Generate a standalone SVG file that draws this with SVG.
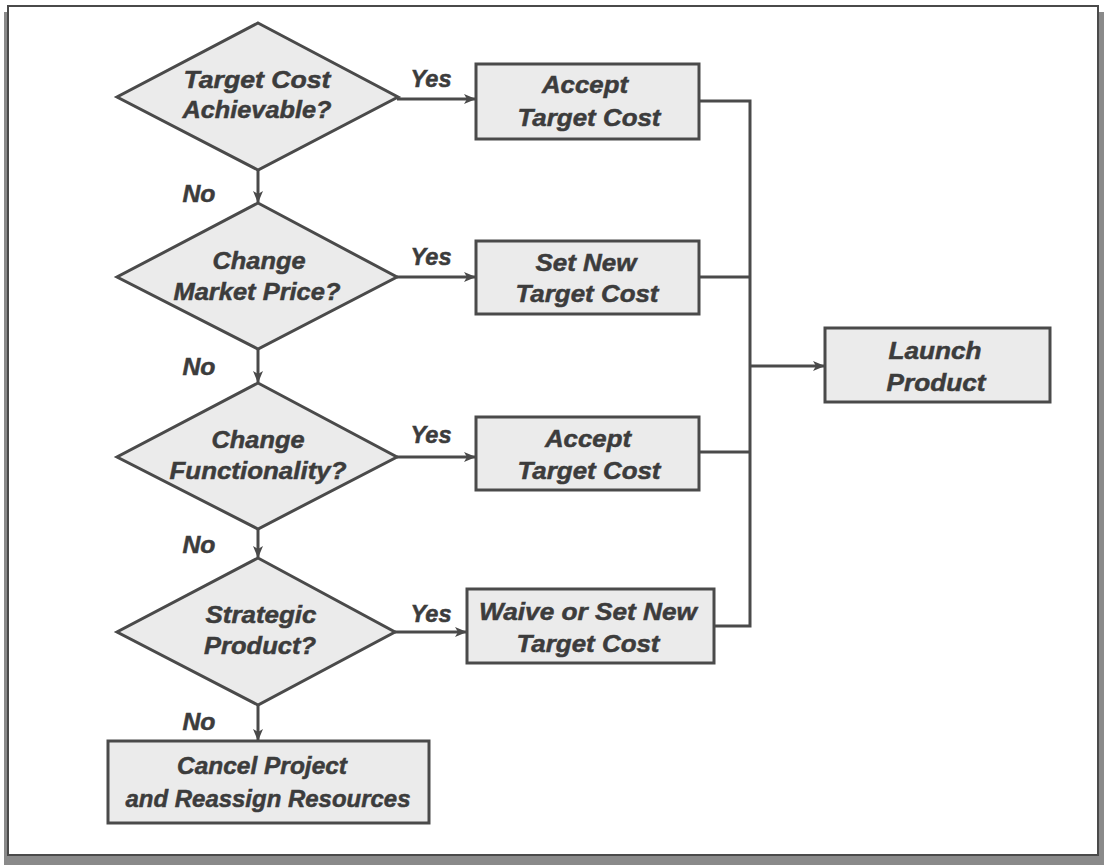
<svg xmlns="http://www.w3.org/2000/svg" width="1104" height="865" viewBox="0 0 1104 865">
  <style>
    .shape { fill: #ebebeb; stroke: #4a4a4a; stroke-width: 3; }
    .conn { fill: none; stroke: #4a4a4a; stroke-width: 3; }
    .lbl { font-family: "Liberation Sans", Arial, sans-serif; font-weight: bold; font-style: italic; font-size: 24px; fill: #3c3c3c; stroke: #3c3c3c; stroke-width: 0.5; text-anchor: middle; }
  </style>
  <defs>
    <marker id="arrow" markerWidth="12" markerHeight="10" refX="11" refY="5" orient="auto" markerUnits="userSpaceOnUse">
      <path d="M0,0 L12,5 L0,10 L3,5 Z" fill="#4a4a4a"/>
    </marker>
  </defs>

  <!-- page frame with drop shadow -->
  <rect x="0" y="0" width="1104" height="865" fill="#ffffff"/>
  <rect x="4" y="12" width="1100" height="853" fill="#8a8a8a"/>
  <rect x="8" y="6" width="1090" height="849" fill="#ffffff" stroke="#4a4a4a" stroke-width="2"/>

  <!-- connectors -->
  <g id="connectors">
    <line class="conn" x1="397" y1="99" x2="475" y2="99" marker-end="url(#arrow)"/>
    <line class="conn" x1="397" y1="277" x2="475" y2="277" marker-end="url(#arrow)"/>
    <line class="conn" x1="397" y1="457" x2="475" y2="457" marker-end="url(#arrow)"/>
    <line class="conn" x1="395" y1="632" x2="466" y2="632" marker-end="url(#arrow)"/>
    <line class="conn" x1="258" y1="170" x2="258" y2="202" marker-end="url(#arrow)"/>
    <line class="conn" x1="258" y1="349" x2="258" y2="382" marker-end="url(#arrow)"/>
    <line class="conn" x1="258" y1="529" x2="258" y2="557" marker-end="url(#arrow)"/>
    <line class="conn" x1="258" y1="705" x2="258" y2="740" marker-end="url(#arrow)"/>
    <polyline class="conn" points="699,101 750,101 750,626 714,626"/>
    <line class="conn" x1="699" y1="277" x2="750" y2="277"/>
    <line class="conn" x1="699" y1="452" x2="750" y2="452"/>
    <line class="conn" x1="750" y1="366" x2="824" y2="366" marker-end="url(#arrow)"/>
    <text class="lbl" x="431" y="87" textLength="41" lengthAdjust="spacingAndGlyphs">Yes</text>
    <text class="lbl" x="431" y="265" textLength="41" lengthAdjust="spacingAndGlyphs">Yes</text>
    <text class="lbl" x="431" y="443" textLength="41" lengthAdjust="spacingAndGlyphs">Yes</text>
    <text class="lbl" x="431" y="622" textLength="41" lengthAdjust="spacingAndGlyphs">Yes</text>
    <text class="lbl" x="199" y="202" textLength="33" lengthAdjust="spacingAndGlyphs">No</text>
    <text class="lbl" x="199" y="375" textLength="33" lengthAdjust="spacingAndGlyphs">No</text>
    <text class="lbl" x="199" y="553" textLength="33" lengthAdjust="spacingAndGlyphs">No</text>
    <text class="lbl" x="199" y="730" textLength="33" lengthAdjust="spacingAndGlyphs">No</text>
  </g>

  <!-- decisions -->
  <g id="d-target-cost">
    <polygon class="shape" points="258,23 398,97 258,170 117,97"/>
    <text class="lbl" x="257" y="88" textLength="147" lengthAdjust="spacingAndGlyphs">Target Cost</text>
    <text class="lbl" x="257" y="118" textLength="149" lengthAdjust="spacingAndGlyphs">Achievable?</text>
  </g>
  <g id="d-market-price">
    <polygon class="shape" points="258,203 397,277 258,349 117,277"/>
    <text class="lbl" x="259" y="269" textLength="93" lengthAdjust="spacingAndGlyphs">Change</text>
    <text class="lbl" x="257" y="300" textLength="167" lengthAdjust="spacingAndGlyphs">Market Price?</text>
  </g>
  <g id="d-functionality">
    <polygon class="shape" points="258,383 397,457 258,529 117,457"/>
    <text class="lbl" x="258" y="448" textLength="93" lengthAdjust="spacingAndGlyphs">Change</text>
    <text class="lbl" x="258" y="479" textLength="177" lengthAdjust="spacingAndGlyphs">Functionality?</text>
  </g>
  <g id="d-strategic">
    <polygon class="shape" points="258,558 395,632 258,705 117,632"/>
    <text class="lbl" x="261" y="623" textLength="111" lengthAdjust="spacingAndGlyphs">Strategic</text>
    <text class="lbl" x="260" y="654" textLength="112" lengthAdjust="spacingAndGlyphs">Product?</text>
  </g>

  <!-- outcomes -->
  <g id="b-accept-1">
    <rect class="shape" x="476" y="64" width="223" height="75"/>
    <text class="lbl" x="585" y="93" textLength="86" lengthAdjust="spacingAndGlyphs">Accept</text>
    <text class="lbl" x="589" y="126" textLength="143" lengthAdjust="spacingAndGlyphs">Target Cost</text>
  </g>
  <g id="b-set-new">
    <rect class="shape" x="476" y="241" width="223" height="73"/>
    <text class="lbl" x="586" y="271" textLength="101" lengthAdjust="spacingAndGlyphs">Set New</text>
    <text class="lbl" x="587" y="302" textLength="143" lengthAdjust="spacingAndGlyphs">Target Cost</text>
  </g>
  <g id="b-accept-2">
    <rect class="shape" x="476" y="417" width="223" height="73"/>
    <text class="lbl" x="588" y="447" textLength="86" lengthAdjust="spacingAndGlyphs">Accept</text>
    <text class="lbl" x="589" y="479" textLength="143" lengthAdjust="spacingAndGlyphs">Target Cost</text>
  </g>
  <g id="b-waive">
    <rect class="shape" x="467" y="589" width="247" height="74"/>
    <text class="lbl" x="588" y="620" textLength="218" lengthAdjust="spacingAndGlyphs">Waive or Set New</text>
    <text class="lbl" x="588" y="652" textLength="143" lengthAdjust="spacingAndGlyphs">Target Cost</text>
  </g>
  <g id="b-launch">
    <rect class="shape" x="825" y="328" width="225" height="74"/>
    <text class="lbl" x="935" y="359" textLength="93" lengthAdjust="spacingAndGlyphs">Launch</text>
    <text class="lbl" x="936" y="391" textLength="99" lengthAdjust="spacingAndGlyphs">Product</text>
  </g>
  <g id="b-cancel">
    <rect class="shape" x="108" y="741" width="321" height="82"/>
    <text class="lbl" x="262" y="774" textLength="170" lengthAdjust="spacingAndGlyphs">Cancel Project</text>
    <text class="lbl" x="268" y="807" textLength="285" lengthAdjust="spacingAndGlyphs">and Reassign Resources</text>
  </g>
</svg>
